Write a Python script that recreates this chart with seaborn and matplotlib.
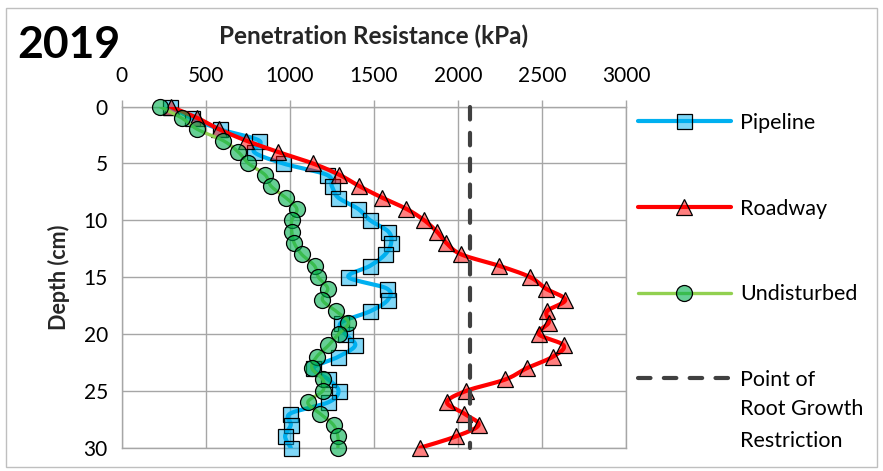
import numpy as np
import pandas as pd
import matplotlib
matplotlib.use("Agg")
import matplotlib.pyplot as plt
import seaborn as sns
from matplotlib.lines import Line2D
from matplotlib.patches import Rectangle

# ---------------- data ----------------
depth = list(range(31))
pipeline = [288, 416, 585, 819, 788, 960, 1220, 1250, 1288, 1407, 1478,
            1587, 1603, 1567, 1478, 1349, 1577, 1583, 1478, 1305, 1330,
            1389, 1289, 1140, 1230, 1290, 1230, 1002, 1006, 972, 1006]
roadway = [292, 450, 581, 742, 932, 1137, 1295, 1414, 1548, 1694, 1800,
           1875, 1932, 2020, 2245, 2430, 2522, 2639, 2530, 2540, 2480,
           2629, 2565, 2411, 2282, 2050, 1935, 2037, 2123, 1990, 1776]
undisturbed = [228, 357, 450, 605, 694, 754, 853, 889, 975, 1042, 1012,
               1012, 1026, 1071, 1147, 1170, 1226, 1194, 1276, 1349, 1290,
               1230, 1160, 1131, 1196, 1196, 1107, 1180, 1260, 1286, 1286]
restriction_x = [2070, 2070]
restriction_depth = [0, 30]
x_ticks = [0, 500, 1000, 1500, 2000, 2500, 3000]
y_ticks = [0, 5, 10, 15, 20, 25, 30]
series_names = ["Pipeline", "Roadway", "Undisturbed"]
restriction_label = ["Point of", "Root Growth", "Restriction"]
year_label = "2019"
x_title = "Penetration Resistance (kPa)"
y_title = "Depth (cm)"

# ---------------- style ----------------
sns.set_theme(style="white")
plt.rcParams['font.family'] = ['Lato', 'DejaVu Sans']
plt.rcParams['text.color'] = 'black'

GRID = '#A6A6A6'
styles = {
    "Pipeline": dict(line='#00B0F0', lw=3.0, marker='s', ms=10.8,
                     mfc=(0.0, 0.69, 0.94, 0.5)),
    "Roadway": dict(line='#FF0000', lw=3.0, marker='^', ms=11.5,
                    mfc=(1.0, 0.0, 0.0, 0.5)),
    "Undisturbed": dict(line='#92D050', lw=2.4, marker='o', ms=11.5,
                        mfc=(0.0, 0.69, 0.31, 0.6)),
}


def smooth(xs, ys, n=12):
    """Excel-like smoothed line (Catmull-Rom / Bezier) through the points."""
    P = np.column_stack([xs, ys]).astype(float)
    E = np.vstack([P[0], P, P[-1]])
    out = [P[0]]
    ts = np.linspace(0, 1, n + 1)[1:]
    for i in range(len(P) - 1):
        p0, p1, p2, p3 = E[i], E[i + 1], E[i + 2], E[i + 3]
        c1 = p1 + (p2 - p0) / 6.0
        c2 = p2 - (p3 - p1) / 6.0
        for t in ts:
            out.append((1 - t) ** 3 * p1 + 3 * (1 - t) ** 2 * t * c1
                       + 3 * (1 - t) * t ** 2 * c2 + t ** 3 * p2)
    return np.array(out)


W, H = 883, 471
fig = plt.figure(figsize=(W / 100, H / 100), dpi=100)
ax_left, ax_right, ax_top, ax_bottom = 121.7, 626, 106.6, 447.7
ax = fig.add_axes([ax_left / W, 1 - ax_bottom / H,
                   (ax_right - ax_left) / W, (ax_bottom - ax_top) / H])

values = {"Pipeline": pipeline, "Roadway": roadway, "Undisturbed": undisturbed}
z = 3
for name in series_names:
    st = styles[name]
    curve = smooth(values[name], depth)
    df = pd.DataFrame({"x": curve[:, 0], "y": curve[:, 1]})
    sns.lineplot(data=df, x="x", y="y", sort=False, estimator=None,
                 color=st['line'], lw=st['lw'], ax=ax, zorder=z,
                 solid_capstyle='round', legend=False)
    ax.plot(values[name], depth, linestyle='none', marker=st['marker'],
            ms=st['ms'], mfc=st['mfc'], mec='black', mew=0.9,
            clip_on=False, zorder=z + 0.5)
    z += 1

ax.plot(restriction_x, restriction_depth, color='#404040', lw=3.0,
        dashes=(3.0, 3.2), dash_capstyle='round', zorder=z, clip_on=False)

ax.set_xlim(0, 3000)
ax.set_ylim(30, 0)
ax.set_xticks(x_ticks)
ax.set_yticks(y_ticks)
ax.xaxis.tick_top()
ax.xaxis.set_label_position('top')
ax.grid(True, color=GRID, lw=1.0)
ax.tick_params(axis='x', length=4.8, width=1.0, color=GRID, labelsize=15,
               pad=10, labelcolor='black')
ax.tick_params(axis='y', length=6, width=1.0, color=GRID, labelsize=15,
               pad=4, labelcolor='black')
for sp in ax.spines.values():
    sp.set_color(GRID)
    sp.set_linewidth(1.0)
ax.set_xlabel(x_title, fontsize=17.5, fontweight='bold', labelpad=16)
ax.set_ylabel(y_title, fontsize=15.5, fontweight='bold', labelpad=10)

# legend
handles = []
for name in series_names:
    st = styles[name]
    handles.append(Line2D([], [], color=st['line'], lw=st['lw'],
                          marker=st['marker'], ms=st['ms'], mfc=st['mfc'],
                          mec='black', mew=0.9))
handles.append(Line2D([], [], color='#404040', lw=3.0, dashes=(3.0, 3.2),
                      dash_capstyle='round'))
leg = ax.legend(handles, series_names + [restriction_label[0]],
                loc='upper left', bbox_to_anchor=(638 / W, 1 - 113 / H),
                bbox_transform=fig.transFigure, frameon=False,
                handlelength=4.3, handletextpad=0.45, labelspacing=3.05,
                fontsize=15.5, borderaxespad=0, borderpad=0, numpoints=1)
fig.text(740 / W, 1 - 409 / H, restriction_label[1], fontsize=15.5,
         va='center', ha='left')
fig.text(740 / W, 1 - 441 / H, restriction_label[2], fontsize=15.5,
         va='center', ha='left')

fig.text(17 / W, 1 - 45 / H, year_label, fontsize=32, fontweight='bold',
         va='center', ha='left')

fig.patches.append(Rectangle((6 / W, 4 / H), 1 - 12 / W, 1 - 12 / H,
                             transform=fig.transFigure, fill=False,
                             edgecolor='#BFBFBF', lw=1.0))

fig.savefig('out.png', dpi=100, facecolor='white')
